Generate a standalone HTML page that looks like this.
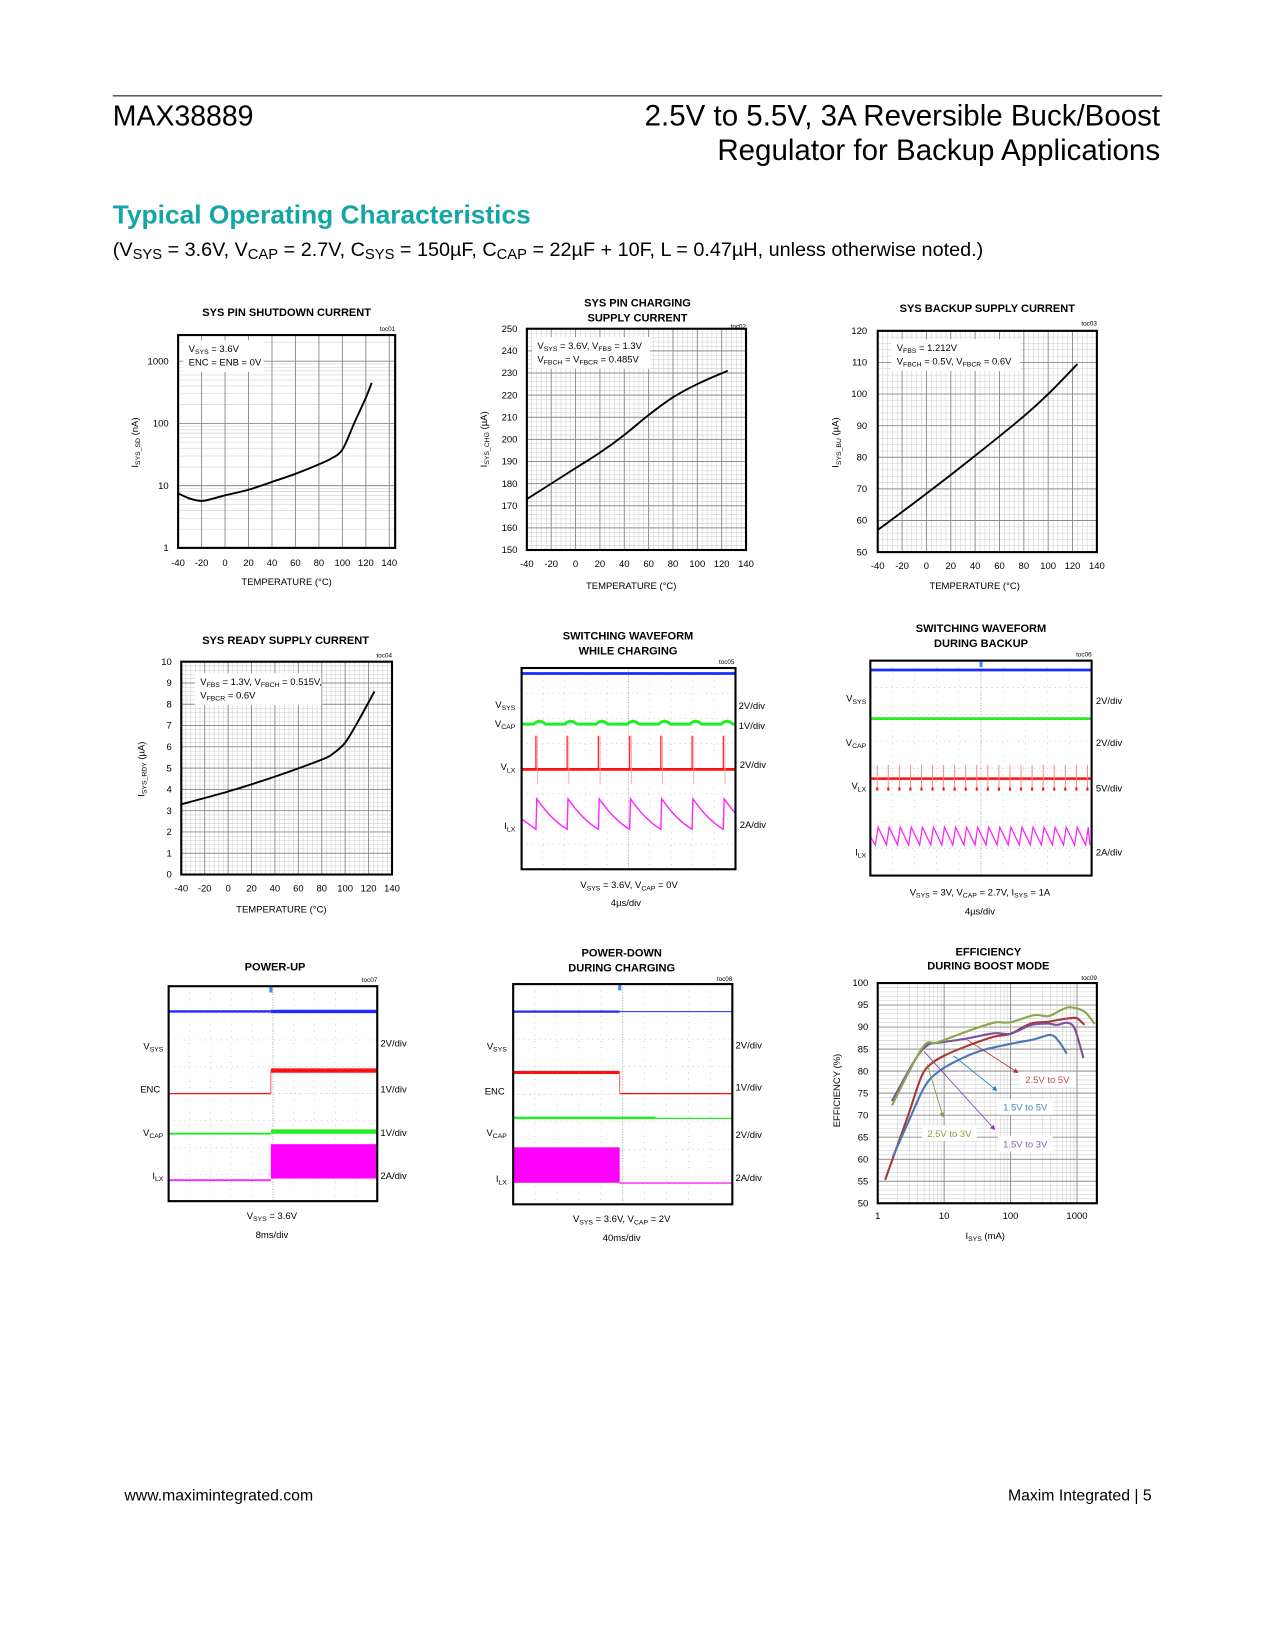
<!DOCTYPE html>
<html><head><meta charset="utf-8">
<style>
html,body{margin:0;padding:0;background:#fff;}
svg{display:block;}
text{font-family:"Liberation Sans",Arial,sans-serif;fill:#000;}
.ct{font-size:10.5px;font-weight:bold;}
.tk{font-size:9px;}
.an{font-size:9px;}
.toc{font-size:6px;}
</style></head>
<body>
<svg id="pg" xmlns="http://www.w3.org/2000/svg" viewBox="0 0 1210 1566" width="1275" height="1650">
<rect x="0" y="0" width="1210" height="1566" fill="#fff"/>
<line x1="107" y1="91" x2="1103" y2="91" stroke="#000" stroke-width="1"/>
<text x="107" y="119" font-size="27">MAX38889</text>
<text x="1101" y="119" font-size="28" text-anchor="end">2.5V to 5.5V, 3A Reversible Buck/Boost</text>
<text x="1101" y="152" font-size="28" text-anchor="end">Regulator for Backup Applications</text>
<text x="107" y="212" font-size="25" font-weight="bold" style="fill:#14a5a5">Typical Operating Characteristics</text>
<text x="107" y="243" font-size="18.8">(V<tspan font-size="14" dy="3">SYS</tspan><tspan dy="-3"> = 3.6V, V</tspan><tspan font-size="14" dy="3">CAP</tspan><tspan dy="-3"> = 2.7V, C</tspan><tspan font-size="14" dy="3">SYS</tspan><tspan dy="-3"> = 150µF, C</tspan><tspan font-size="14" dy="3">CAP</tspan><tspan dy="-3"> = 22µF + 10F, L = 0.47µH, unless otherwise noted.)</tspan></text>

<!-- chart 1 -->
<g id="c1">
<text class="ct" x="272" y="300" text-anchor="middle">SYS PIN SHUTDOWN CURRENT</text>
<text class="toc" x="375" y="314" text-anchor="end">toc01</text>
<text class="tk" x="272" y="555" text-anchor="middle">TEMPERATURE (°C)</text>
<text class="tk" transform="rotate(-90 131 420)" x="131" y="420" text-anchor="middle">I<tspan font-size="6.5" dy="2">SYS_SD</tspan><tspan dy="-2"> (nA)</tspan></text>
</g>
<!-- chart 2 -->
<g id="c2">
<text class="ct" x="605" y="291" text-anchor="middle">SYS PIN CHARGING</text>
<text class="ct" x="605" y="305" text-anchor="middle">SUPPLY CURRENT</text>
<text class="toc" x="708" y="312" text-anchor="end">toc02</text>
<text class="tk" x="599" y="559" text-anchor="middle">TEMPERATURE (°C)</text>
<text class="tk" transform="rotate(-90 462 417)" x="462" y="417" text-anchor="middle">I<tspan font-size="6.5" dy="2">SYS_CHG</tspan><tspan dy="-2"> (µA)</tspan></text>
</g>
<!-- chart 3 -->
<g id="c3">
<text class="ct" x="937" y="296" text-anchor="middle">SYS BACKUP SUPPLY CURRENT</text>
<text class="toc" x="1041" y="309" text-anchor="end">toc03</text>
<text class="tk" x="925" y="559" text-anchor="middle">TEMPERATURE (°C)</text>
<text class="tk" transform="rotate(-90 796 420)" x="796" y="420" text-anchor="middle">I<tspan font-size="6.5" dy="2">SYS_BU</tspan><tspan dy="-2"> (µA)</tspan></text>
</g>
<!-- chart 4 -->
<g id="c4">
<text class="ct" x="271" y="611" text-anchor="middle">SYS READY SUPPLY CURRENT</text>
<text class="toc" x="372" y="624" text-anchor="end">toc04</text>
<text class="tk" x="267" y="866" text-anchor="middle">TEMPERATURE (°C)</text>
<text class="tk" transform="rotate(-90 137 730)" x="137" y="730" text-anchor="middle">I<tspan font-size="6.5" dy="2">SYS_RDY</tspan><tspan dy="-2"> (µA)</tspan></text>
</g>
<!-- chart 5 -->
<g id="c5">
<text class="ct" x="596" y="607" text-anchor="middle">SWITCHING WAVEFORM</text>
<text class="ct" x="596" y="621" text-anchor="middle">WHILE CHARGING</text>
<text class="toc" x="697" y="630" text-anchor="end">toc05</text>
<text class="an" x="489" y="672" text-anchor="end">V<tspan font-size="6.5" dy="2">SYS</tspan></text>
<text class="an" x="489" y="690" text-anchor="end">V<tspan font-size="6.5" dy="2">CAP</tspan></text>
<text class="an" x="489" y="731" text-anchor="end">V<tspan font-size="6.5" dy="2">LX</tspan></text>
<text class="an" x="489" y="787" text-anchor="end">I<tspan font-size="6.5" dy="2">LX</tspan></text>
<text class="an" x="701" y="673">2V/div</text><text class="an" x="701" y="692">1V/div</text>
<text class="an" x="702" y="729">2V/div</text><text class="an" x="702" y="786">2A/div</text>
<text class="an" x="597" y="843" text-anchor="middle">V<tspan font-size="6.5" dy="2">SYS</tspan><tspan dy="-2"> = 3.6V, V</tspan><tspan font-size="6.5" dy="2">CAP</tspan><tspan dy="-2"> = 0V</tspan></text>
<text class="an" x="594" y="860" text-anchor="middle">4µs/div</text>
</g>
<!-- chart 6 -->
<g id="c6">
<text class="ct" x="931" y="600" text-anchor="middle">SWITCHING WAVEFORM</text>
<text class="ct" x="931" y="614" text-anchor="middle">DURING BACKUP</text>
<text class="toc" x="1036" y="623" text-anchor="end">toc06</text>
<text class="an" x="822" y="666" text-anchor="end">V<tspan font-size="6.5" dy="2">SYS</tspan></text>
<text class="an" x="822" y="708" text-anchor="end">V<tspan font-size="6.5" dy="2">CAP</tspan></text>
<text class="an" x="822" y="749" text-anchor="end">V<tspan font-size="6.5" dy="2">LX</tspan></text>
<text class="an" x="822" y="812" text-anchor="end">I<tspan font-size="6.5" dy="2">LX</tspan></text>
<text class="an" x="1040" y="668">2V/div</text><text class="an" x="1040" y="708">2V/div</text>
<text class="an" x="1040" y="751">5V/div</text><text class="an" x="1040" y="812">2A/div</text>
<text class="an" x="930" y="850" text-anchor="middle">V<tspan font-size="6.5" dy="2">SYS</tspan><tspan dy="-2"> = 3V, V</tspan><tspan font-size="6.5" dy="2">CAP</tspan><tspan dy="-2"> = 2.7V, I</tspan><tspan font-size="6.5" dy="2">SYS</tspan><tspan dy="-2"> = 1A</tspan></text>
<text class="an" x="930" y="868" text-anchor="middle">4µs/div</text>
</g>
<!-- chart 7 -->
<g id="c7">
<text class="ct" x="261" y="921" text-anchor="middle">POWER-UP</text>
<text class="toc" x="358" y="932" text-anchor="end">toc07</text>
<text class="an" x="155" y="996" text-anchor="end">V<tspan font-size="6.5" dy="2">SYS</tspan></text>
<text class="an" x="152" y="1037" text-anchor="end">ENC</text>
<text class="an" x="155" y="1078" text-anchor="end">V<tspan font-size="6.5" dy="2">CAP</tspan></text>
<text class="an" x="155" y="1119" text-anchor="end">I<tspan font-size="6.5" dy="2">LX</tspan></text>
<text class="an" x="361" y="993">2V/div</text><text class="an" x="361" y="1037">1V/div</text>
<text class="an" x="361" y="1078">1V/div</text><text class="an" x="361" y="1119">2A/div</text>
<text class="an" x="258" y="1157" text-anchor="middle">V<tspan font-size="6.5" dy="2">SYS</tspan><tspan dy="-2"> = 3.6V</tspan></text>
<text class="an" x="258" y="1175" text-anchor="middle">8ms/div</text>
</g>
<!-- chart 8 -->
<g id="c8">
<text class="ct" x="590" y="908" text-anchor="middle">POWER-DOWN</text>
<text class="ct" x="590" y="922" text-anchor="middle">DURING CHARGING</text>
<text class="toc" x="695" y="931" text-anchor="end">toc08</text>
<text class="an" x="481" y="996" text-anchor="end">V<tspan font-size="6.5" dy="2">SYS</tspan></text>
<text class="an" x="479" y="1039" text-anchor="end">ENC</text>
<text class="an" x="481" y="1078" text-anchor="end">V<tspan font-size="6.5" dy="2">CAP</tspan></text>
<text class="an" x="481" y="1122" text-anchor="end">I<tspan font-size="6.5" dy="2">LX</tspan></text>
<text class="an" x="698" y="995">2V/div</text><text class="an" x="698" y="1035">1V/div</text>
<text class="an" x="698" y="1080">2V/div</text><text class="an" x="698" y="1121">2A/div</text>
<text class="an" x="590" y="1160" text-anchor="middle">V<tspan font-size="6.5" dy="2">SYS</tspan><tspan dy="-2"> = 3.6V, V</tspan><tspan font-size="6.5" dy="2">CAP</tspan><tspan dy="-2"> = 2V</tspan></text>
<text class="an" x="590" y="1178" text-anchor="middle">40ms/div</text>
</g>
<!-- chart 9 -->
<g id="c9">
<text class="ct" x="938" y="907" text-anchor="middle">EFFICIENCY</text>
<text class="ct" x="938" y="920" text-anchor="middle">DURING BOOST MODE</text>
<text class="toc" x="1041" y="930" text-anchor="end">toc09</text>
<text class="tk" x="935" y="1176" text-anchor="middle">I<tspan font-size="6.5" dy="2">SYS</tspan><tspan dy="-2"> (mA)</tspan></text>
<text class="tk" transform="rotate(-90 797 1035)" x="797" y="1035" text-anchor="middle">EFFICIENCY (%)</text>
</g>

<text x="118" y="1424" font-size="15">www.maximintegrated.com</text>
<text x="1093" y="1424" font-size="15" text-anchor="end">Maxim Integrated | 5</text>
</svg>
<script>
// ---------- data ----------
const sdTemps=[-40,-30,-20,-10,0,20,40,60,80,90,100,110,120,125];
const sdCurrent=[7.5,6.2,5.7,6.2,7.0,8.6,11.5,15.5,22,27,38,100,260,450];
const tempTicks=[-40,-20,0,20,40,60,80,100,120,140];
const sdYTicks=[1,10,100,1000];
const chgTemps=[-40,-20,0,20,40,60,80,100,125];
const chgCurrent=[173,180,187,194,202,211,219,225,231];
const chgYTicks=[150,160,170,180,190,200,210,220,230,240,250];
const buTemps=[-40,0,40,80,100,124];
const buCurrent=[57,68.5,80.5,93,100,109.5];
const buYTicks=[50,60,70,80,90,100,110,120];
const rdyTemps=[-40,0,40,80,90,100,110,125];
const rdyCurrent=[3.3,3.9,4.6,5.4,5.7,6.2,7.1,8.6];
const rdyYTicks=[0,1,2,3,4,5,6,7,8,9,10];
const effXTicks=[1,10,100,1000];
const effYTicks=[50,55,60,65,70,75,80,85,90,95,100];
const effGreenX=[1.64,4.7,7.9,22,56,100,224,375,600,800,1300,1850];
const effGreenY=[72.2,85.3,86.5,89,91,91.1,92.7,92.5,94,94.5,93.5,90.7];
const effPurpleX=[1.64,3.55,5.6,8.9,22,56,100,200,355,500,700,900,1100,1250];
const effPurpleY=[73.2,82.3,85.9,86.5,87.4,88.6,88.5,90.4,90.8,90.5,91,90,86,83];
const effRedX=[1.29,2.8,4.5,6.3,10,22,56,100,200,355,560,800,1000,1300];
const effRedY=[55.3,69.5,78.6,81.6,83.5,85.7,87.8,88.5,90.8,91.2,91.7,92,92,90.5];
const effBlueX=[1.68,2.8,5,7.9,14,35,100,224,400,530,700];
const effBlueY=[60.5,68,76.3,79.7,82,84.6,86.2,87.2,88.2,86.8,84];
// scope (in divisions; x 0..10, y 0..8 from bottom)
const wcSpikes=[0.67,2.13,3.59,5.05,6.51,7.97,9.43];
const wcLevels=[7.78,5.77,3.97];
const wcLxRange=[3.39,5.31];
const wcIlxRange=[1.59,2.8];
const dbSpikes=[0.31,0.81,1.31,1.81,2.31,2.81,3.31,3.81,4.31,4.81,5.31,5.81,6.31,6.81,7.31,7.81,8.31,8.81,9.31,9.81];
const dbLevels=[7.65,5.84,3.61];
const dbLxRange=[3.18,4.12];
const dbIlxRange=[1.14,1.8];
const puStep=4.9;
const puBefore=[7.06,4.0,2.51,0.78];
const puAfter=[7.06,4.86,2.59,0.86];
const puIlxFill=[0.86,2.12];
const pdStep=4.86;
const pdBefore=[7.0,4.79,3.14,0.80];
const pdAfter=[7.0,4.02,3.12,0.77];
const pdIlxFill=[0.80,2.07];
const pdVcapFall=6.5;

// ---------- helpers ----------
const NS="http://www.w3.org/2000/svg";
function mk(t,a,p){const e=document.createElementNS(NS,t);for(const k in a)e.setAttribute(k,a[k]);p.appendChild(e);return e;}
function sc(d0,d1,r0,r1,log){
  if(log){const l0=Math.log10(d0),l1=Math.log10(d1);return v=>r0+(Math.log10(v)-l0)/(l1-l0)*(r1-r0);}
  return v=>r0+(v-d0)/(d1-d0)*(r1-r0);}
function smoothPath(p){
  let d="M"+p[0][0].toFixed(1)+","+p[0][1].toFixed(1);
  for(let i=0;i<p.length-1;i++){
    const p0=p[i-1]||p[i],p1=p[i],p2=p[i+1],p3=p[i+2]||p2;
    const c1=[p1[0]+(p2[0]-p0[0])/6,p1[1]+(p2[1]-p0[1])/6],c2=[p2[0]-(p3[0]-p1[0])/6,p2[1]-(p3[1]-p1[1])/6];
    d+=" C"+c1.map(v=>v.toFixed(1))+" "+c2.map(v=>v.toFixed(1))+" "+p2[0].toFixed(1)+","+p2[1].toFixed(1);}
  return d;}
function hl(g,x0,x1,y,col,w){return mk("line",{x1:x0,x2:x1,y1:y,y2:y,stroke:col,"stroke-width":w},g);}
function vl(g,x,y0,y1,col,w){return mk("line",{x1:x,x2:x,y1:y0,y2:y1,stroke:col,"stroke-width":w},g);}

function frame(g,x0,y0,x1,y1,vMinor,vMajor,hMinor,hMajor,sx,sy){
  const gg=mk("g",{},g);
  
  
  vMinor.forEach(v=>vl(gg,sx(v),y0,y1,"#cdcdcd",0.5));
  hMinor.forEach(v=>hl(gg,x0,x1,sy(v),"#cdcdcd",0.5));
  vMajor.forEach(v=>vl(gg,sx(v),y0,y1,"#8c8c8c",0.9));
  hMajor.forEach(v=>hl(gg,x0,x1,sy(v),"#8c8c8c",0.9));
  const r=mk("rect",{x:x0,y:y0,width:x1-x0,height:y1-y0,fill:"none",stroke:"#000","stroke-width":2},g);
  
  
}
function xLabels(g,ticks,sx,y,fmt){ticks.forEach(v=>{const t=mk("text",{class:"tk",x:sx(v),y:y,"text-anchor":"middle"},g);t.textContent=fmt?fmt(v):v;
  
  });}
function yLabels(g,ticks,sy,x){ticks.forEach(v=>{const t=mk("text",{class:"tk",x:x,y:sy(v)+3,"text-anchor":"end"},g);t.textContent=v;
  
  });}
function curve(g,xs,ys,sx,sy,col,w,name){
  const p=mk("path",{d:smoothPath(xs.map((x,i)=>[sx(x),sy(ys[i])])),fill:"none",stroke:col,"stroke-width":w,"stroke-linejoin":"round"},g);
  
  
  return p;}
function annot(g,x,y,w,h,lines){
  const r=mk("rect",{x:x,y:y,width:w,height:h,fill:"#fff"},g);
  
  
  lines.forEach((ln,i)=>{const t=mk("text",{class:"an",x:x+5,y:y+11+i*13},g);t.innerHTML=ln;
    
    });}
function range(a,b,s){const r=[];for(let v=a;v<=b+1e-9;v+=s)r.push(+v.toFixed(4));return r;}
function sub(s){return '<tspan font-size="6.5" dy="2">'+s+'</tspan><tspan dy="-2">';}

// ---------- chart 1 ----------
(function(){const g=document.getElementById("c1");
  const x0=169,x1=375,y0=318,y1=520;
  const sx=sc(-40,145,x0,x1),sy=sc(1,Math.pow(10,3.42),y1,y0,true);
  const hMin=[];[1,10,100,1000].forEach(d=>{for(let k=2;k<=9;k++)if(k*d<Math.pow(10,3.42))hMin.push(k*d);});
  frame(g,x0,y0,x1,y1,[],range(-20,140,20),hMin,[10,100,1000],sx,sy);
  annot(g,174,323,76,30,['V'+sub('SYS')+' = 3.6V</tspan>','ENC = ENB = 0V']);
  curve(g,sdTemps,sdCurrent,sx,sy,"#000",1.8,"shutdown-current-curve");
  xLabels(g,tempTicks,sx,537);yLabels(g,sdYTicks,sy,160);})();
// ---------- chart 2 ----------
(function(){const g=document.getElementById("c2");
  const x0=500,x1=708,y0=312,y1=522;
  const sx=sc(-40,140,x0,x1),sy=sc(150,250,y1,y0);
  frame(g,x0,y0,x1,y1,range(-40,140,4),range(-40,140,20),range(150,250,2),range(150,250,10),sx,sy);
  annot(g,505,320,112,30,['V'+sub('SYS')+' = 3.6V, V</tspan>'+sub('FBS')+' = 1.3V</tspan>','V'+sub('FBCH')+' = V</tspan>'+sub('FBCR')+' = 0.485V</tspan>']);
  curve(g,chgTemps,chgCurrent,sx,sy,"#000",1.8,"charging-current-curve");
  xLabels(g,tempTicks,sx,538);yLabels(g,chgYTicks,sy,491);})();
// ---------- chart 3 ----------
(function(){const g=document.getElementById("c3");
  const x0=833,x1=1041,y0=314,y1=524;
  const sx=sc(-40,140,x0,x1),sy=sc(50,120,y1,y0);
  frame(g,x0,y0,x1,y1,range(-40,140,4),range(-40,140,20),range(50,120,2),range(50,120,10),sx,sy);
  annot(g,846,322,122,30,['V'+sub('FBS')+' = 1.212V</tspan>','V'+sub('FBCH')+' = 0.5V, V</tspan>'+sub('FBCR')+' = 0.6V</tspan>']);
  curve(g,buTemps,buCurrent,sx,sy,"#000",1.8,"backup-current-curve");
  xLabels(g,tempTicks,sx,540);yLabels(g,buYTicks,sy,823);})();
// ---------- chart 4 ----------
(function(){const g=document.getElementById("c4");
  const x0=172,x1=372,y0=628,y1=830;
  const sx=sc(-40,140,x0,x1),sy=sc(0,10,y1,y0);
  frame(g,x0,y0,x1,y1,range(-40,140,4),range(-40,140,20),range(0,10,0.2),range(0,10,1),sx,sy);
  annot(g,185,639,120,30,['V'+sub('FBS')+' = 1.3V, V</tspan>'+sub('FBCH')+' = 0.515V,</tspan>','V'+sub('FBCR')+' = 0.6V</tspan>']);
  curve(g,rdyTemps,rdyCurrent,sx,sy,"#000",1.8,"ready-current-curve");
  xLabels(g,tempTicks,sx,846);yLabels(g,rdyYTicks,sy,163);})();
// ---------- chart 9 ----------
(function(){const g=document.getElementById("c9");
  const x0=833,x1=1041,y0=933,y1=1142;
  const sx=sc(1,Math.pow(10,3.3),x0,x1,true),sy=sc(50,100,y1,y0);
  const vMin=[];[1,10,100,1000].forEach(d=>{for(let k=2;k<=9;k++)if(k*d<Math.pow(10,3.3))vMin.push(k*d);});
  frame(g,x0,y0,x1,y1,vMin,[10,100,1000],range(50,100,1),range(50,100,5),sx,sy);
  curve(g,effRedX,effRedY,sx,sy,"#a83838",2,"series-2p5v-to-5v");
  curve(g,effBlueX,effBlueY,sx,sy,"#4a78b5",2,"series-1p5v-to-5v");
  curve(g,effPurpleX,effPurpleY,sx,sy,"#7a4f9e",2,"series-1p5v-to-3v");
  curve(g,effGreenX,effGreenY,sx,sy,"#88a84a",2,"series-2p5v-to-3v");
  const defs=mk("defs",{},g);
  const arr=[["#a83838",918,987,966,1018],["#1a86d0",905,1002,946,1035],["#7fa33a",880,1010,895,1060],["#8040b0",877,998,944,1072]];
  arr.forEach((a,i)=>{const m=mk("marker",{id:"ah"+i,markerWidth:6,markerHeight:6,refX:5,refY:3,orient:"auto"},defs);
    mk("path",{d:"M0,0 L6,3 L0,6 z",fill:a[0]},m);
    const l=mk("line",{x1:a[1],y1:a[2],x2:a[3],y2:a[4],stroke:a[0],"stroke-width":0.8,"marker-end":"url(#ah"+i+")"},g);
    
    });
  const labs=[["2.5V to 5V",968,1017,"#c0504d"],["1.5V to 5V",947,1043,"#4f81bd"],["2.5V to 3V",875,1068,"#7f9f3f"],["1.5V to 3V",947,1078,"#8064a2"]];
  labs.forEach(l=>{const r=mk("rect",{x:l[1],y:l[2],width:52,height:15,fill:"#fff"},g);
    
    
    const t=mk("text",{class:"an",x:l[1]+5,y:l[2]+11,style:"fill:"+l[3]},g);t.textContent=l[0];
    
    });
  xLabels(g,effXTicks,sx,1157);yLabels(g,effYTicks,sy,824);})();

// ---------- scope helpers ----------
function scope(g,x0,y0,x1,y1){
  const sx=d=>x0+d*(x1-x0)/10,sy=d=>y1-d*(y1-y0)/8;
  const gg=mk("g",{},g);
  
  
  for(let i=1;i<10;i++)vl(gg,sx(i),y0,y1,"#aaa",0.6).setAttribute("stroke-dasharray","0.8,5.2");
  for(let j=1;j<8;j++)hl(gg,x0,x1,sy(j),"#aaa",0.6).setAttribute("stroke-dasharray","0.8,4.2");
  vl(gg,sx(5),y0,y1,"#999",0.7).setAttribute("stroke-dasharray","1,1.5");
  hl(gg,x0,x1,sy(4),"#bbb",0.5).setAttribute("stroke-dasharray","1,3");
  return {sx,sy};}
function scopeFrame(g,x0,y0,x1,y1){const r=mk("rect",{x:x0,y:y0,width:x1-x0,height:y1-y0,fill:"none",stroke:"#000","stroke-width":2},g);
  
  }
function trace(g,d,col,w,name){const p=mk("path",{d:d,fill:"none",stroke:col,"stroke-width":w},g);
  
  return p;}

// ---------- chart 5 ----------
(function(){const g=document.getElementById("c5");
  const x0=495,y0=634,x1=698,y1=825;const {sx,sy}=scope(g,x0,y0,x1,y1);
  trace(g,"M"+sx(0)+","+sy(wcLevels[0])+" H"+sx(10),"#1a2cff",2.6,"vsys-trace");
  let d="M"+sx(0)+","+sy(wcLevels[1]);
  wcSpikes.forEach(s=>{d+=" L"+sx(s-0.1)+","+sy(wcLevels[1])+" Q"+sx(s+0.15)+","+sy(wcLevels[1]+0.22)+" "+sx(s+0.45)+","+sy(wcLevels[1]);});
  d+=" L"+sx(10)+","+sy(wcLevels[1]);
  trace(g,d,"#22ee22",2.8,"vcap-trace");
  trace(g,"M"+sx(0)+","+sy(wcLevels[2])+" H"+sx(10),"#ff1010",2.6,"vlx-trace");
  wcSpikes.forEach(s=>{
    const a=vl(g,sx(s),sy(wcLevels[2]),sy(wcLxRange[1]),"#ff2020",1.2);
    
    
    const b=vl(g,sx(s+0.08),sy(wcLxRange[1]),sy(wcLxRange[0]),"#ff9a9a",0.8);
    
    });
  const lo=wcIlxRange[0],hi=wcIlxRange[1];
  let m="M"+sx(0)+","+sy(2.0)+" L"+sx(wcSpikes[0])+","+sy(lo);
  wcSpikes.forEach((s,i)=>{const e=i<wcSpikes.length-1?wcSpikes[i+1]:s+1.46;
    m+=" L"+sx(s+0.04)+","+sy(hi)+" Q"+sx(s+0.5*(e-s))+","+sy(lo+0.3*(hi-lo))+" "+sx(e)+","+sy(lo);});
  const mp=trace(g,m,"#ff22ff",1.3,"ilx-trace");
  const cp=mk("clipPath",{id:"cl5"},g);mk("rect",{x:x0,y:y0,width:x1-x0,height:y1-y0},cp);mp.setAttribute("clip-path","url(#cl5)");
  scopeFrame(g,x0,y0,x1,y1);})();
// ---------- chart 6 ----------
(function(){const g=document.getElementById("c6");
  const x0=826,y0=627,x1=1036,y1=831;const {sx,sy}=scope(g,x0,y0,x1,y1);
  trace(g,"M"+sx(0)+","+sy(dbLevels[0])+" H"+sx(10),"#1a2cff",2.6,"vsys-trace");
  trace(g,"M"+sx(0)+","+sy(dbLevels[1])+" H"+sx(10),"#22ee22",2.6,"vcap-trace");
  trace(g,"M"+sx(0)+","+sy(dbLevels[2])+" H"+sx(10),"#ff1010",2.4,"vlx-trace");
  dbSpikes.forEach(s=>{
    const a=vl(g,sx(s),sy(dbLxRange[1]),sy(dbLxRange[0]),"#ff8080",0.9);
    
    
    const b=mk("rect",{x:sx(s)-1,y:sy(dbLxRange[0])-2.5,width:2,height:3,fill:"#ff1010"},g);
    
    });
  const lo=dbIlxRange[0],hi=dbIlxRange[1];
  let m="M"+sx(0)+","+sy(lo+0.3);
  dbSpikes.forEach((s,i)=>{const e=i<dbSpikes.length-1?dbSpikes[i+1]:10;
    m+=" L"+sx(s-0.08)+","+sy(lo)+" L"+sx(s+0.04)+","+sy(hi)+" L"+sx(e-0.08)+","+sy(lo);});
  trace(g,m,"#ff22ff",1.2,"ilx-trace");
  mk("rect",{x:sx(5)-1.5,y:y0+1,width:3,height:5,fill:"#3a8cff"},g);
  scopeFrame(g,x0,y0,x1,y1);})();
// ---------- chart 7 ----------
(function(){const g=document.getElementById("c7");
  const x0=160,y0=936,x1=358,y1=1140;const {sx,sy}=scope(g,x0,y0,x1,y1);
  const cols=["#1a2cff","#ff1010","#22ee22","#ff22ff"],names=["vsys-trace","enc-trace","vcap-trace","ilx-trace"];
  const wB=[2.2,1.2,1.8,1.8],wA=[3.2,4.2,4.2,1];
  puBefore.forEach((v,i)=>{trace(g,"M"+sx(0)+","+sy(v)+" H"+sx(puStep),cols[i],wB[i],names[i]+"-before");
    trace(g,"M"+sx(puStep)+","+sy(puAfter[i])+" H"+sx(10),cols[i],wA[i],names[i]+"-after");});
  trace(g,"M"+sx(puStep)+","+sy(puBefore[1])+" V"+sy(puAfter[1]),"#ff6060",1,"enc-step");
  const r=mk("rect",{x:sx(puStep),y:sy(puIlxFill[1]),width:sx(10)-sx(puStep),height:sy(puIlxFill[0])-sy(puIlxFill[1]),fill:"#ff00ff"},g);
  
  
  mk("rect",{x:sx(puStep)-1.5,y:y0+1,width:3,height:5,fill:"#3a8cff"},g);
  scopeFrame(g,x0,y0,x1,y1);})();
// ---------- chart 8 ----------
(function(){const g=document.getElementById("c8");
  const x0=487,y0=934,x1=695,y1=1143;const {sx,sy}=scope(g,x0,y0,x1,y1);
  const cols=["#1a2cff","#ff1010","#22ee22","#ff22ff"],names=["vsys-trace","enc-trace","vcap-trace","ilx-trace"];
  const wB=[2.2,3,2.4,1],wA=[1,1.2,1.2,1.3];
  pdBefore.forEach((v,i)=>{const end=i==2?pdVcapFall:pdStep;
    trace(g,"M"+sx(0)+","+sy(v)+" H"+sx(end),cols[i],wB[i],names[i]+"-before");
    trace(g,"M"+sx(end)+","+sy(pdAfter[i])+" H"+sx(10),cols[i],wA[i],names[i]+"-after");});
  trace(g,"M"+sx(pdStep)+","+sy(pdBefore[1])+" V"+sy(pdAfter[1]),"#ff6060",1,"enc-step");
  const r=mk("rect",{x:sx(0),y:sy(pdIlxFill[1]),width:sx(pdStep)-sx(0),height:sy(pdIlxFill[0])-sy(pdIlxFill[1]),fill:"#ff00ff"},g);
  
  
  mk("rect",{x:sx(pdStep)-1.5,y:y0+1,width:3,height:5,fill:"#3a8cff"},g);
  scopeFrame(g,x0,y0,x1,y1);})();
</script>
</body></html>
